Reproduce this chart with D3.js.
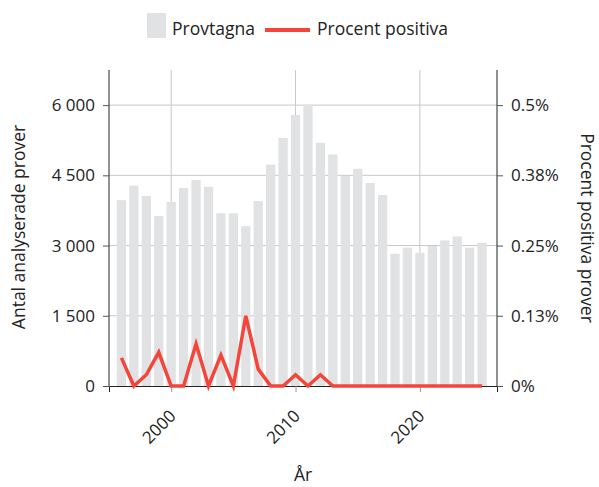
<!DOCTYPE html>
<html>
<head>
<meta charset="utf-8">
<script src="https://cdn.jsdelivr.net/npm/d3@7"></script>
<style>
body { margin: 0; background: #fff; }
text { font-family: "Open Sans", Lato, sans-serif; fill: #222; }
</style>
</head>
<body>
<svg id="chart" width="599" height="487"></svg>
<script>
// data
var years = d3.range(1996, 2026);
var provtagna = [3970, 4280, 4060, 3630, 3930, 4230, 4400, 4255, 3690, 3690,
                 3415, 3950, 4730, 5300, 5790, 6010, 5195, 4945, 4485, 4640,
                 4335, 4080, 2825, 2955, 2845, 2990, 3110, 3195, 2955, 3060];
var positiva = [0.05, 0, 0.02, 0.06, 0, 0, 0.075, 0, 0.055, 0,
                0.125, 0.03, 0, 0, 0.02, 0, 0.02, 0, 0, 0,
                0, 0, 0, 0, 0, 0, 0, 0, 0, 0];
var leftTicks = [0, 1500, 3000, 4500, 6000];
var rightTicks = [0, 0.125, 0.25, 0.375, 0.5];
var yearTicks = [2000, 2010, 2020];

var svg = d3.select("#chart");
var margin = {top: 70, right: 102, bottom: 101, left: 109};
var width = 599 - margin.left - margin.right;
var height = 487 - margin.top - margin.bottom;

var g = svg.append("g").attr("transform", "translate(" + margin.left + "," + margin.top + ")");

var xScale = d3.scaleLinear().domain([1995, 2026.2]).range([0, width]);
var yLeft = d3.scaleLinear().domain([0, 6750]).range([height, 0]);
var yRight = d3.scaleLinear().domain([0, 0.5625]).range([height, 0]);

var loc = d3.formatLocale({decimal: ".", thousands: " ", grouping: [3], currency: ["", ""]});
var fmtLeft = loc.format(",d");
var fmtRight = function(d) { return d3.format(".2~f")(d) + "%"; };

// gridlines (behind bars)
g.append("g").selectAll("line").data(leftTicks.slice(1)).join("line")
    .attr("x1", 0).attr("x2", width)
    .attr("y1", function(d) { return yLeft(d); }).attr("y2", function(d) { return yLeft(d); })
    .attr("stroke", "#c8c8c8").attr("stroke-width", 1);
g.append("g").selectAll("line").data(yearTicks).join("line")
    .attr("x1", function(d) { return xScale(d); }).attr("x2", function(d) { return xScale(d); })
    .attr("y1", 0).attr("y2", height)
    .attr("stroke", "#c8c8c8").attr("stroke-width", 1);

// bottom axis (drawn under bars)
var xAxis = d3.axisBottom(xScale).tickValues(yearTicks).tickSize(6).tickFormat(d3.format("d"));
var xg = g.append("g").attr("transform", "translate(0," + height + ")").call(xAxis);
xg.select(".domain").attr("stroke", "#222");
xg.selectAll(".tick line").attr("stroke", "#999");
xg.selectAll(".tick text")
    .attr("font-size", 17)
    .attr("text-anchor", "end")
    .attr("x", 0).attr("y", 0).attr("dy", "0.35em")
    .attr("transform", "translate(1,27) rotate(-45)")
    .style("fill", "#222");

// bars
var bw = 9.3;
g.append("g").selectAll("rect").data(provtagna).join("rect")
    .attr("x", function(d, i) { return xScale(years[i]) - bw / 2; })
    .attr("width", bw)
    .attr("y", function(d) { return yLeft(d); })
    .attr("height", function(d) { return height - yLeft(d); })
    .attr("fill", "#e1e2e4");

// line
var line = d3.line()
    .x(function(d, i) { return xScale(years[i]); })
    .y(function(d) { return yRight(d); });
g.append("path").datum(positiva)
    .attr("d", line)
    .attr("fill", "none")
    .attr("stroke", "#f5443a")
    .attr("stroke-width", 3.5)
    .attr("stroke-linejoin", "miter");

// left and right axes
var yAxisL = d3.axisLeft(yLeft).tickValues(leftTicks).tickSize(6).tickPadding(8).tickFormat(fmtLeft);
var lg = g.append("g").call(yAxisL);
lg.select(".domain").attr("stroke", "#222").attr("d", "M0," + height + "V0");
lg.selectAll(".tick line").attr("stroke", "#555");
lg.selectAll(".tick text").attr("font-size", 17).style("fill", "#222");

var yAxisR = d3.axisRight(yRight).tickValues(rightTicks).tickSize(6).tickPadding(8).tickFormat(fmtRight);
var rg = g.append("g").attr("transform", "translate(" + width + ",0)").call(yAxisR);
rg.select(".domain").attr("stroke", "#222").attr("d", "M0," + height + "V0");
rg.selectAll(".tick line").attr("stroke", "#555");
rg.selectAll(".tick text").attr("font-size", 17).style("fill", "#222");

// axis titles
svg.append("text")
    .attr("transform", "translate(25,227) rotate(-90)")
    .attr("text-anchor", "middle")
    .attr("font-size", 17.5)
    .text("Antal analyserade prover");
svg.append("text")
    .attr("transform", "translate(581,228) rotate(90)")
    .attr("text-anchor", "middle")
    .attr("font-size", 17.5)
    .text("Procent positiva prover");
svg.append("text")
    .attr("x", 303).attr("y", 481)
    .attr("text-anchor", "middle")
    .attr("font-size", 17.5)
    .text("År");

// legend
var legend = svg.append("g");
legend.append("rect").attr("x", 147).attr("y", 13).attr("width", 19).attr("height", 25).attr("fill", "#e1e2e4");
legend.append("text").attr("x", 172).attr("y", 35).attr("font-size", 17.5).text("Provtagna");
legend.append("line").attr("x1", 265).attr("x2", 310).attr("y1", 30).attr("y2", 30)
    .attr("stroke", "#f5443a").attr("stroke-width", 4);
legend.append("text").attr("x", 317).attr("y", 35).attr("font-size", 17.5).text("Procent positiva");
</script>
</body>
</html>
